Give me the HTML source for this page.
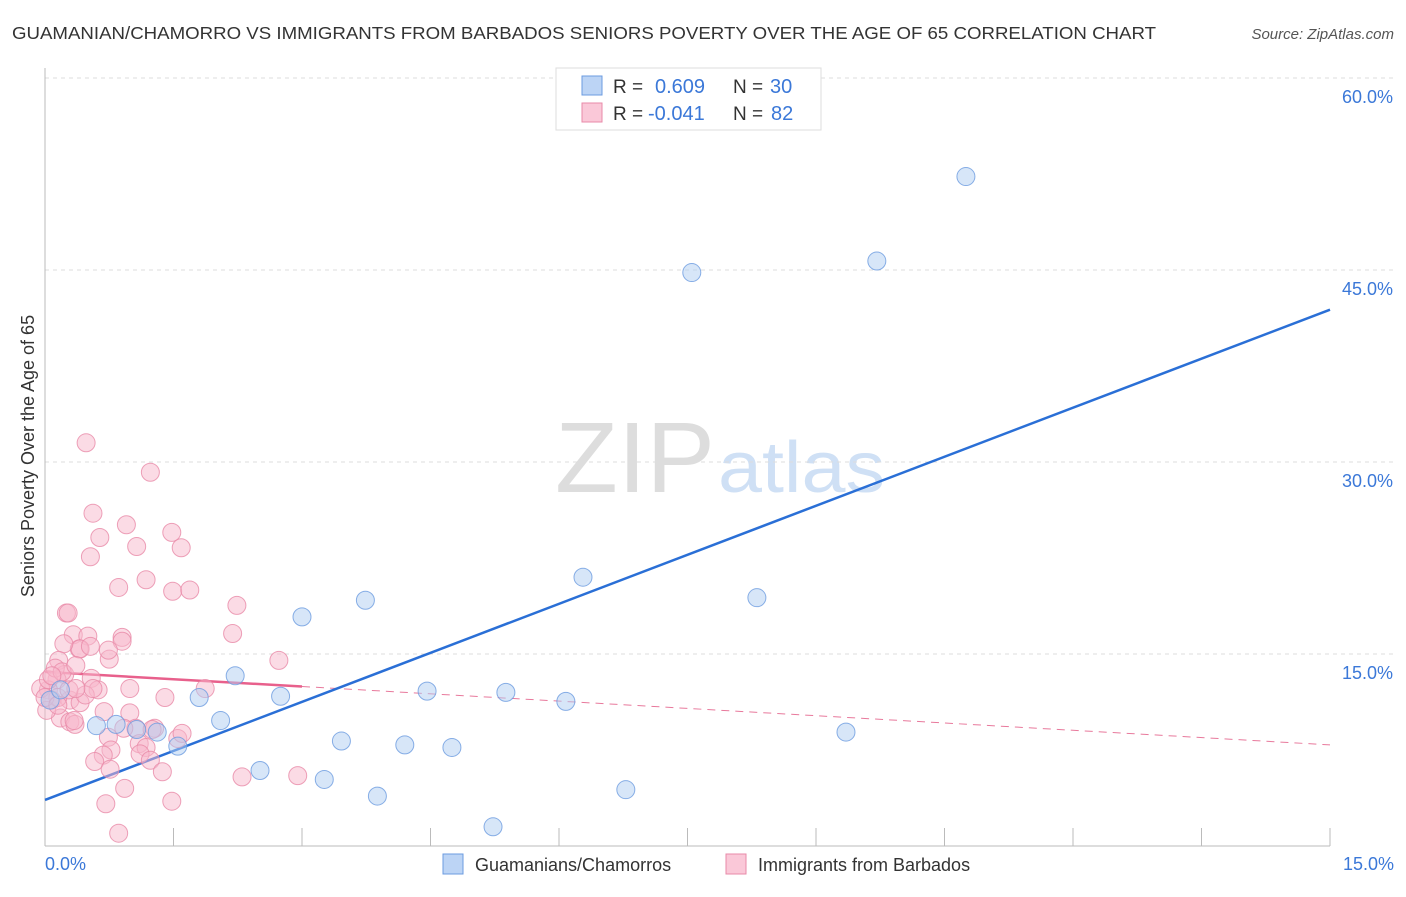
<!DOCTYPE html>
<html><head><meta charset="utf-8"><style>
body{margin:0;background:#fff;font-family:"Liberation Sans",sans-serif}
svg text{font-family:"Liberation Sans",sans-serif}
</style></head><body>
<svg id="chart" width="1406" height="892">
<text x="12" y="39" font-size="17.5" fill="#333" textLength="1144" lengthAdjust="spacingAndGlyphs">GUAMANIAN/CHAMORRO VS IMMIGRANTS FROM BARBADOS SENIORS POVERTY OVER THE AGE OF 65 CORRELATION CHART</text>
<text x="1394" y="39" font-size="15" fill="#555" font-style="italic" text-anchor="end">Source: ZipAtlas.com</text>
<text x="555" y="492" font-size="100" fill="#ddd" font-family="Liberation Serif,serif" textLength="160" lengthAdjust="spacingAndGlyphs">ZIP</text>
<text x="718" y="492" font-size="72" fill="#cfe0f5" textLength="167" lengthAdjust="spacingAndGlyphs">atlas</text>
<g id="grid"></g><g id="axes"></g><g id="lines"></g><g id="pts"></g>
<text transform="translate(34,456) rotate(-90)" font-size="18" fill="#333" text-anchor="middle">Seniors Poverty Over the Age of 65</text>
<text x="45" y="870" font-size="18" fill="#3b78d8">0.0%</text>
<text x="1394" y="870" font-size="18" fill="#3b78d8" text-anchor="end">15.0%</text>
<g>
<rect x="443" y="854" width="20" height="20" fill="#bcd4f5" stroke="#6b9be0"/>
<text x="475" y="871" font-size="18" fill="#333">Guamanians/Chamorros</text>
<rect x="726" y="854" width="20" height="20" fill="#fac8d8" stroke="#e88aa8"/>
<text x="758" y="871" font-size="18" fill="#333">Immigrants from Barbados</text>
</g>
<g>
<rect x="556" y="68" width="265" height="62" fill="#fff" stroke="#ddd"/>
<rect x="582" y="76" width="20" height="19" fill="#bcd4f5" stroke="#6b9be0"/>
<rect x="582" y="103" width="20" height="19" fill="#fac8d8" stroke="#e88aa8"/>
<text x="613" y="93" font-size="19" fill="#333">R =</text><text x="655" y="93" font-size="20" fill="#3b78d8">0.609</text>
<text x="733" y="93" font-size="19" fill="#333">N =</text><text x="770" y="93" font-size="20" fill="#3b78d8">30</text>
<text x="613" y="120" font-size="19" fill="#333">R =</text><text x="648" y="120" font-size="20" fill="#3b78d8">-0.041</text>
<text x="733" y="120" font-size="19" fill="#333">N =</text><text x="771" y="120" font-size="20" fill="#3b78d8">82</text>
</g>
</svg>
<script>
const yTicks=[15,30,45,60];
const yTickLabels=["15.0%","30.0%","45.0%","60.0%"];
const xTicks=[0,1.5,3,4.5,6,7.5,9,10.5,12,13.5,15];
const blueX=[10.75,9.71,7.55,6.28,8.31,3.74,3.00,2.22,2.75,4.46,5.38,6.08,2.05,0.60,0.83,1.31,1.55,9.35,3.46,4.20,4.75,2.51,3.26,3.88,6.78,5.23,1.80,1.07,0.06,0.18];
const blueY=[52.3,45.7,44.8,21.0,19.4,19.2,17.9,13.3,11.7,12.1,12.0,11.3,9.8,9.4,9.5,8.9,7.8,8.9,8.2,7.9,7.7,5.9,5.2,3.9,4.4,1.5,11.6,9.1,11.4,12.2];
const pinkPx=[[86,443],[150,472],[93,513],[126,525],[100,537],[172,533],[137,547],[181,548],[90,557],[146,580],[119,588],[173,591],[190,590],[237,605],[66,613],[68,613],[233,633],[122,637],[122,641],[73,635],[88,636],[79,649],[80,649],[109,659],[279,660],[64,644],[59,660],[65,675],[91,678],[98,690],[130,689],[165,697],[205,688],[57,680],[48,690],[52,700],[70,700],[80,703],[104,712],[130,713],[60,718],[70,722],[75,725],[74,720],[136,728],[155,728],[108,737],[111,750],[139,743],[146,747],[124,728],[152,730],[140,754],[178,738],[182,733],[103,755],[95,762],[150,760],[162,772],[110,769],[125,789],[172,801],[106,804],[119,833],[242,777],[298,776],[41,688],[48,680],[55,668],[62,672],[47,710],[58,698],[85,695],[93,688],[45,698],[69,690],[76,688],[108,650],[90,646],[58,705],[52,676],[76,666]];
const pinkX=pinkPx.map(p=>+((p[0]-45)/1285*15).toFixed(2));
const pinkY=pinkPx.map(p=>+((846-p[1])/12.8).toFixed(1));
const blueTrend=[3.6,41.9];
const pinkTrend=[13.6,7.9];
const pinkSolidEnd=3.0;
const X=v=>45+v/15*1285, Y=v=>846-v*12.8;
const NS="http://www.w3.org/2000/svg";
function mk(t,a,p){const e=document.createElementNS(NS,t);for(const k in a)e.setAttribute(k,a[k]);document.getElementById(p).appendChild(e);return e;}
yTicks.forEach((t,i)=>{
 const g=mk('line',{x1:45,x2:1393,y1:Y(t),y2:Y(t),stroke:'#ddd','stroke-dasharray':'4,4'},'grid');
 
 
 const l=mk('text',{x:1393,y:Y(t)+25,'font-size':18,fill:'#3b78d8','text-anchor':'end'},'grid');
 l.textContent=yTickLabels[i];
 
 
});
const ya=mk('line',{x1:45,x2:45,y1:68,y2:846,stroke:'#bbb'},'axes');


const xa=mk('line',{x1:45,x2:1330,y1:846,y2:846,stroke:'#bbb'},'axes');


xTicks.forEach(t=>{const k=mk('line',{x1:X(t),x2:X(t),y1:828,y2:846,stroke:'#bbb'},'axes');
 
 });
function pts(xs,ys,fill,stroke,name){xs.forEach((x,i)=>{const c=mk('circle',{cx:X(x),cy:Y(ys[i]),r:9,fill:fill,'fill-opacity':0.5,stroke:stroke,'stroke-opacity':0.8},'pts');
 
 });}
pts(pinkX,pinkY,'#f8b8cc','#e88aa8','barbados-point');
pts(blueX,blueY,'#b0cdf2','#6b9be0','guamanian-point');
const pAt=x=>pinkTrend[0]+(pinkTrend[1]-pinkTrend[0])*x/15;
const pd=mk('line',{x1:X(pinkSolidEnd),y1:Y(pAt(pinkSolidEnd)),x2:X(15),y2:Y(pinkTrend[1]),stroke:'#e8799c','stroke-width':1,'stroke-dasharray':'8,6'},'lines');


const ps=mk('line',{x1:X(0),y1:Y(pinkTrend[0]),x2:X(pinkSolidEnd),y2:Y(pAt(pinkSolidEnd)),stroke:'#e8608c','stroke-width':2.5},'lines');


const bl=mk('line',{x1:X(0),y1:Y(blueTrend[0]),x2:X(15),y2:Y(blueTrend[1]),stroke:'#2a6fd6','stroke-width':2.5},'lines');


</script>
</body></html>
